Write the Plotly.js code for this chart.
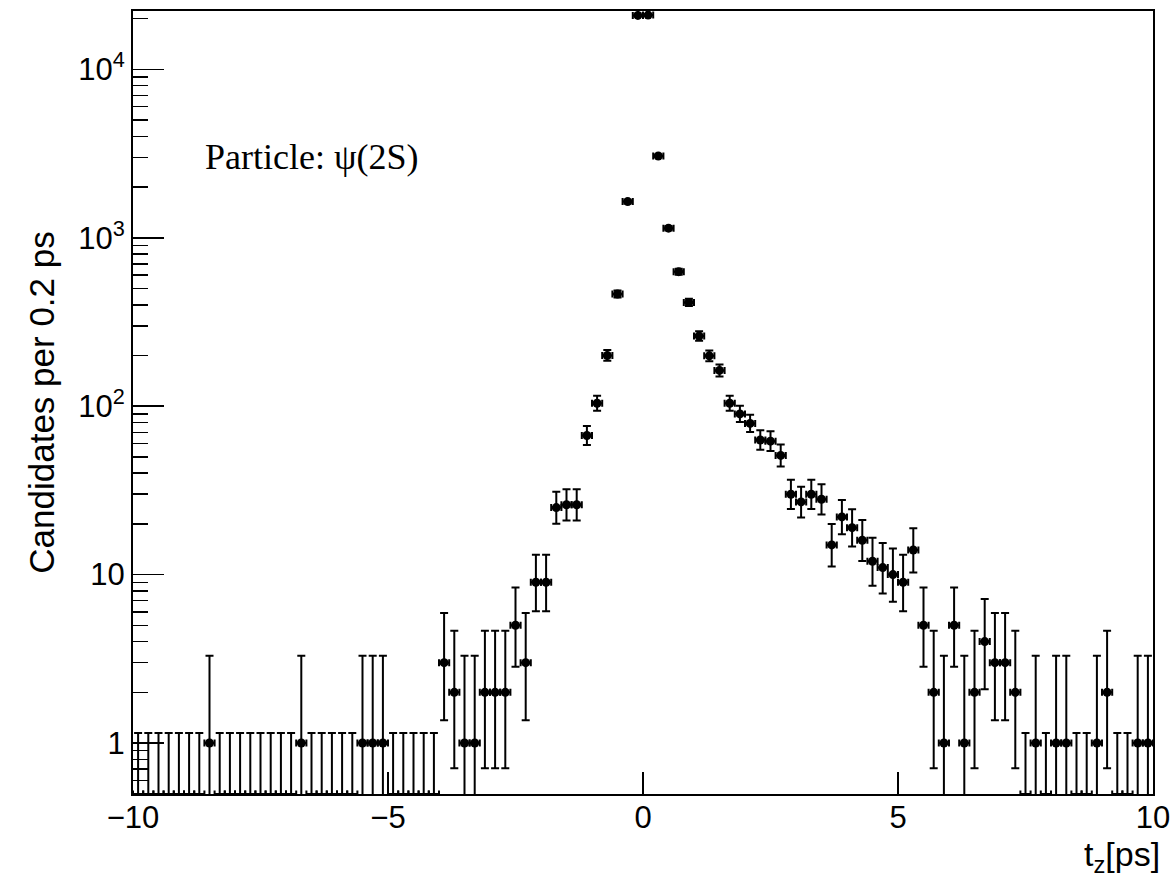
<!DOCTYPE html>
<html>
<head>
<meta charset="utf-8">
<script src="https://cdn.plot.ly/plotly-3.0.1.min.js"></script>
<style>html,body{margin:0;padding:0;background:#fff;}#chart{width:1174px;height:879px;}</style>
</head>
<body>
<div id="chart"></div>
<script>
// Bin centres of t_z [ps] (bin width 0.2 ps)
const tz = [
 -9.9,-9.7,-9.5,-9.3,-9.1,-8.9,-8.7,-8.5,-8.3,-8.1,
 -7.9,-7.7,-7.5,-7.3,-7.1,-6.9,-6.7,-6.5,-6.3,-6.1,
 -5.9,-5.7,-5.5,-5.3,-5.1,-4.9,-4.7,-4.5,-4.3,-4.1,
 -3.9,-3.7,-3.5,-3.3,-3.1,-2.9,-2.7,-2.5,-2.3,-2.1,
 -1.9,-1.7,-1.5,-1.3,-1.1,-0.9,-0.7,-0.5,-0.3,-0.1,
 0.1,0.3,0.5,0.7,0.9,1.1,1.3,1.5,1.7,1.9,
 2.1,2.3,2.5,2.7,2.9,3.1,3.3,3.5,3.7,3.9,
 4.1,4.3,4.5,4.7,4.9,5.1,5.3,5.5,5.7,5.9,
 6.1,6.3,6.5,6.7,6.9,7.1,7.3,7.5,7.7,7.9,
 8.1,8.3,8.5,8.7,8.9,9.1,9.3,9.5,9.7,9.9
];
// Candidates per bin
const counts = [
 0,0,0,0,0,0,0,1,0,0,
 0,0,0,0,0,0,1,0,0,0,
 0,0,1,1,1,0,0,0,0,0,
 3,2,1,1,2,2,2,5,3,9,
 9,25,26,26,67,104,200,463,1640,20900,
 21000,3060,1140,629,413,261,199,163,104,90,
 79,63,62,51,30,27,30,28,15,22,
 19,16,12,11,10,9,14,5,2,1,
 5,1,2,4,3,3,2,0,1,0,
 1,1,0,0,1,2,0,0,1,1
];
const binHalfWidth = 0.1;
const xTickVals = [-10,-5,0,5,10];
const xTickText = ['\u221210','\u22125','0','5','10'];
const yTickVals = [1,10,100,1000,10000];
const yTickText = ['1','10','10<sup>2</sup>','10<sup>3</sup>','10<sup>4</sup>'];
const Y_MIN = 0.498, Y_MAX = 22200;

// Poisson (Garwood) 68.27% intervals, RooFit convention for empty bins
const ALPHA2 = 0.158655;
function poisCdf(n, mu){ let t=Math.exp(-mu), s=t; for(let k=1;k<=n;k++){ t*=mu/k; s+=t; } return s; }
function bisect(f, lo, hi){ for(let i=0;i<80;i++){ const m=(lo+hi)/2; if(f(m)>0) lo=m; else hi=m; } return (lo+hi)/2; }
function poisErr(n){
  if(n===0) return [0, -Math.log(1-0.682689)];
  if(n>200) return [Math.sqrt(n-0.25), Math.sqrt(n+0.75)+1];
  const up = bisect(mu=>poisCdf(n,mu)-ALPHA2, n, n+10*Math.sqrt(n+1)+10) - n;
  const lo = n - bisect(mu=>poisCdf(n-1,mu)-(1-ALPHA2), 0, n);
  return [lo, up];
}

const xs=[], ys=[], eUp=[], eLo=[];
const xz=[], yz=[], eUpZ=[];
counts.forEach((c,i)=>{
  const e = poisErr(c);
  if(c>0){ xs.push(tz[i]); ys.push(c); eLo.push(e[0]); eUp.push(e[1]); }
  else { xz.push(tz[i]); yz.push(Y_MIN); eUpZ.push(e[1]-Y_MIN); }
});

const errStyle = {color:'#000', thickness:2};
const traces = [
 { x: xz, y: yz, type:'scatter', mode:'markers', showlegend:false, hoverinfo:'skip',
   marker:{size:1, color:'rgba(0,0,0,0)'},
   error_y: Object.assign({type:'data', symmetric:false, array:eUpZ, arrayminus:eUpZ.map(()=>0), width:4}, errStyle),
   error_x: Object.assign({type:'constant', value:binHalfWidth, width:3.5}, errStyle) },
 { x: xs, y: ys, type:'scatter', mode:'markers', showlegend:false,
   marker:{symbol:'circle', size:9, color:'#000'},
   error_y: Object.assign({type:'data', symmetric:false, array:eUp, arrayminus:eLo, width:4}, errStyle),
   error_x: Object.assign({type:'constant', value:binHalfWidth, width:3.5}, errStyle) }
];

const minorY = [];
[0.1,1,10,100,1000,10000].forEach(d=>{ for(let k=2;k<=9;k++){ const v=k*d; if(v>Y_MIN && v<Y_MAX) minorY.push(v); } });

const sans = 'Liberation Sans, Arial, Helvetica, sans-serif';
const layout = {
  width:1174, height:879,
  margin:{l:133, r:21, t:11, b:85},
  paper_bgcolor:'#fff', plot_bgcolor:'#fff',
  font:{family:sans, color:'#000', size:31},
  xaxis:{
    range:[-10,10], showgrid:false, zeroline:false,
    showline:true, mirror:true, linecolor:'#000', linewidth:2,
    ticks:'inside', ticklen:22, tickwidth:1.5, tickcolor:'#000',
    tickmode:'array', tickvals:xTickVals, ticktext:xTickText,
    ticklabelstandoff:-5,
    tickfont:{family:sans, size:31, color:'#000'}
  },
  yaxis:{
    type:'log', range:[Math.log10(Y_MIN), Math.log10(Y_MAX)],
    showgrid:false, zeroline:false,
    showline:true, mirror:true, linecolor:'#000', linewidth:2,
    ticks:'inside', ticklen:31, tickwidth:1.5, tickcolor:'#000',
    tickmode:'array', tickvals:yTickVals, ticktext:yTickText,
    tickfont:{family:sans, size:31, color:'#000'},
    minor:{tickmode:'array', tickvals:minorY, ticks:'inside', ticklen:15, tickwidth:1.5, tickcolor:'#000', showgrid:false},
    title:{text:'Candidates per 0.2 ps', font:{family:sans, size:35, color:'#000'}, standoff:13}
  },
  annotations:[
    {text:'Particle: \u03c8(2S)', xref:'paper', yref:'paper', x:0.0686, y:0.8135, xanchor:'left', yanchor:'middle',
     showarrow:false, font:{family:'Liberation Serif, Times New Roman, serif', size:36, color:'#000'}},
    {text:'t<sub>z</sub>[ps]', xref:'paper', yref:'paper', x:1.009, y:-0.08, xanchor:'right', yanchor:'middle',
     showarrow:false, font:{family:sans, size:34, color:'#000'}}
  ]
};
Plotly.newPlot('chart', traces, layout, {displayModeBar:false, staticPlot:true});
</script>
</body>
</html>
